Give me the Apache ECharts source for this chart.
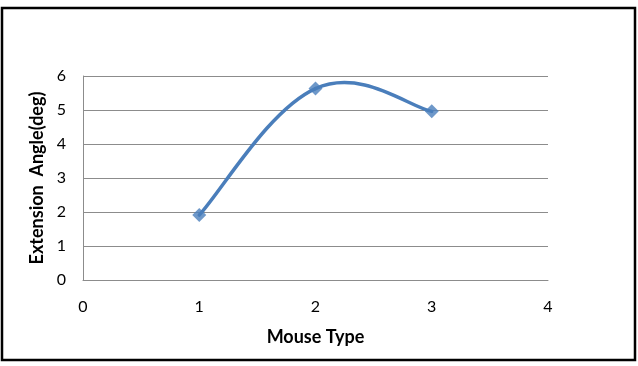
<!DOCTYPE html>
<html>
<head>
<meta charset="utf-8">
<script src="https://cdn.jsdelivr.net/npm/echarts@6/dist/echarts.min.js"></script>
<style>
  html, body { margin: 0; padding: 0; background: #fff; }
  #chart { width: 638px; height: 366px; }
</style>
</head>
<body>
<div id="chart"></div>
<script>
// data
const mouseType = [1, 2, 3];
const extensionAngle = [1.91, 5.63, 4.96];
const xTicks = [0, 4, 1];   // min, max, interval
const yTicks = [0, 6, 1];

const points = mouseType.map((x, i) => [x, extensionAngle[i]]);

const lineColor = "#4a7ebb";
const gridColor = "#8c8c8c";
const font = "Lato, 'Open Sans', sans-serif";

const myChart = echarts.init(document.getElementById("chart"), null, { renderer: "canvas" });

// spreadsheet-style smoothing: each item draws the curve segment coming into it,
// control points from neighbouring points (in pixel space, via the axes)
const TENSION = 0.2;
function renderSegment(params, api) {
  const i = params.dataIndex;
  if (i === 0) return null;
  const px = points.map((p) => api.coord(p));
  const p0 = px[Math.max(i - 2, 0)];
  const p1 = px[i - 1];
  const p2 = px[i];
  const p3 = px[Math.min(i + 1, px.length - 1)];
  return {
    type: "bezierCurve",
    shape: {
      x1: p1[0], y1: p1[1],
      x2: p2[0], y2: p2[1],
      cpx1: p1[0] + (p2[0] - p0[0]) * TENSION,
      cpy1: p1[1] + (p2[1] - p0[1]) * TENSION,
      cpx2: p2[0] - (p3[0] - p1[0]) * TENSION,
      cpy2: p2[1] - (p3[1] - p1[1]) * TENSION,
    },
    style: { stroke: lineColor, fill: "none", lineWidth: 3.5, lineCap: "round" },
  };
}

myChart.setOption({
  animation: false,
  backgroundColor: "#fff",
  graphic: [
    {
      type: "rect",
      shape: { x: 2, y: 8, width: 633, height: 352 },
      style: { fill: "none", stroke: "#000", lineWidth: 2.5 },
      silent: true,
    },
  ],
  grid: { left: 83, right: 90, top: 76, bottom: 86 },
  xAxis: {
    type: "value",
    min: xTicks[0],
    max: xTicks[1],
    interval: xTicks[2],
    name: "Mouse Type",
    nameLocation: "middle",
    nameGap: 48,
    nameTextStyle: { fontFamily: font, fontWeight: "bold", fontSize: 18, color: "#000" },
    axisLine: { show: true, lineStyle: { color: gridColor, width: 1 } },
    axisTick: { show: false },
    axisLabel: { fontFamily: font, fontSize: 16, color: "#000", margin: 19 },
    splitLine: { show: false },
  },
  yAxis: {
    type: "value",
    min: yTicks[0],
    max: yTicks[1],
    interval: yTicks[2],
    name: "Extension  Angle(deg)",
    nameLocation: "middle",
    nameGap: 35,
    nameTextStyle: { fontFamily: font, fontWeight: "bold", fontSize: 18, color: "#000" },
    axisLine: { show: true, lineStyle: { color: gridColor, width: 1 } },
    axisTick: { show: false },
    axisLabel: { fontFamily: font, fontSize: 16, color: "#000", margin: 17 },
    splitLine: { show: true, lineStyle: { color: gridColor, width: 1 } },
  },
  series: [
    {
      type: "custom",
      renderItem: renderSegment,
      data: points,
      z: 2,
    },
    {
      type: "scatter",
      data: points,
      symbol: "diamond",
      symbolSize: 14,
      itemStyle: { color: lineColor },
      z: 3,
    },
  ],
});
</script>
</body>
</html>
